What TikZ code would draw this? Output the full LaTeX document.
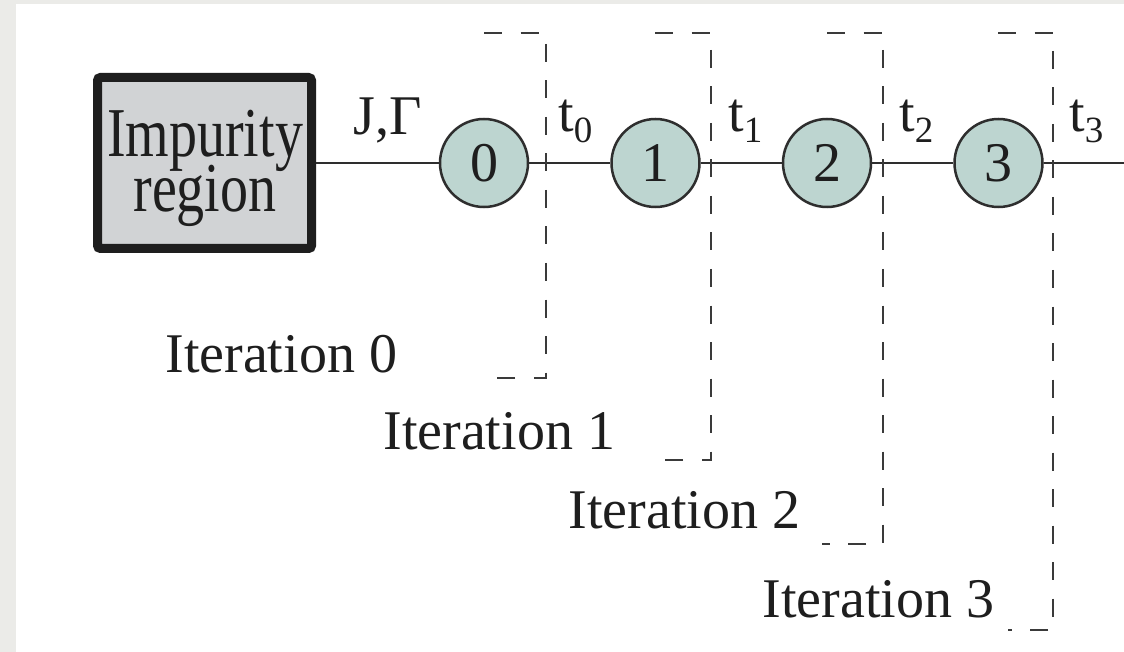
\documentclass[tikz,border=0pt]{standalone}
\usepackage{fontspec}
\setmainfont{Liberation Serif}
\usepackage{graphicx}
\definecolor{pagegray}{HTML}{EBEBE8}
\definecolor{ink}{HTML}{1E1E1E}
\definecolor{linec}{HTML}{2E2E2E}
\definecolor{dashc}{HTML}{3A3A3A}
\definecolor{sitefill}{HTML}{BDD5D0}
\definecolor{boxfill}{HTML}{D1D3D5}
\begin{document}
\begin{tikzpicture}[x=0.5pt,y=-0.5pt,
  site/.style={circle, draw=linec, line width=1.25pt, fill=sitefill,
    minimum size=44pt, inner sep=0pt, text=ink, font=\fontsize{28}{28}\selectfont},
  regionbox/.style={rectangle, draw=ink, line width=4.5pt, fill=boxfill,
    rounded corners=1.5pt, minimum width=107pt, minimum height=85.5pt, inner sep=0pt},
  boxtext/.style={anchor=base, inner sep=0pt, text=ink, font=\fontsize{35}{35}\selectfont},
  label/.style={anchor=base west, inner sep=0pt, text=ink, font=\fontsize{28}{28}\selectfont},
  wire/.style={draw=linec, line width=1pt},
  bracket/.style={draw=dashc, line width=1.25pt, dash pattern=on 9pt off 9.25pt}
]
\useasboundingbox (0,0) rectangle (1124,652);
% page background
\fill[pagegray] (0,0) rectangle (1124,652);
\fill[white] (16,4) rectangle (1124,652);

% impurity block (two lines set tightly, narrow glyphs)
\node[regionbox] (imp) at (204.5,163) {};
\node[boxtext] (impA) at (205,157) {\raisebox{0pt}[\height][0pt]{\scalebox{0.8}[1]{Impurity}}};
\node[boxtext] (impB) at (205,212) {\raisebox{0pt}[0.9\height][\depth]{\scalebox{0.8}[1]{region}}};

% chain sites
\node[site] (c0) at (484,163) {0};
\node[site] (c1) at (655.5,163) {1};
\node[site] (c2) at (827,163) {2};
\node[site] (c3) at (998.5,163) {3};
\coordinate (tail) at (1124,163);

% chain bonds
\draw[wire] (imp) -- (c0) -- (c1) -- (c2) -- (c3) -- (tail);

% iteration brackets
\draw[bracket] (484,33) -- (546,33) -- (546,378) -- (484,378);
\draw[bracket] (655,33) -- (711,33) -- (711,460) -- (650,460);
\draw[bracket] (827,33) -- (883,33) -- (883,544) -- (822,544);
\draw[bracket] (998,33) -- (1053,33) -- (1053,630) -- (1008,630);

% couplings
\newcommand{\hop}[1]{t\raisebox{-5.5pt}{\fontsize{18.5}{18.5}\selectfont #1}}
\node[label] (jg) at (353,135) {J,Γ};
\node[label] (t0) at (558,132) {\hop{0}};
\node[label] (t1) at (728,132) {\hop{1}};
\node[label] (t2) at (899,132) {\hop{2}};
\node[label] (t3) at (1069,132) {\hop{3}};

% iteration labels
\node[label] (it0) at (165,372) {Iteration 0};
\node[label] (it1) at (383,449) {Iteration 1};
\node[label] (it2) at (568,528) {Iteration 2};
\node[label] (it3) at (762,617) {Iteration 3};
\end{tikzpicture}
\end{document}
